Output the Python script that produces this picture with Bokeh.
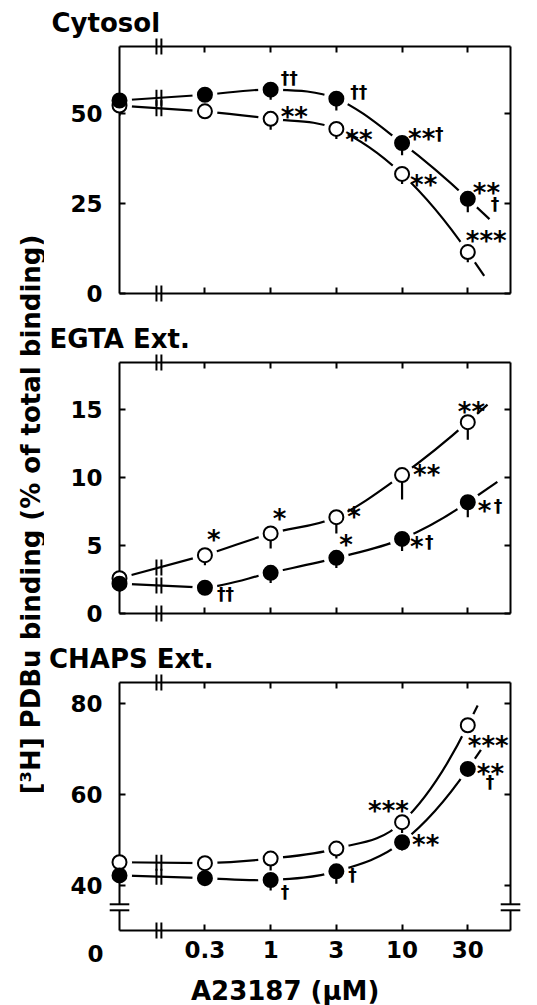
import numpy as np
from bokeh.plotting import figure
from bokeh.layouts import row, column
from bokeh.models import Range1d, LinearAxis, FixedTicker, Label, ColumnDataSource
from bokeh.core.properties import value
from bokeh.embed import file_html
from bokeh.resources import INLINE

# ---------------- data ----------------
conc = [0, 0.3, 1, 3, 10, 30]
conc_labels = ["0", "0.3", "1", "3", "10", "30"]

cyto_open = [52.2, 50.6, 48.5, 45.7, 33.2, 11.5]
cyto_open_err = [2.8, 1.5, 3.0, 2.8, 2.8, 2.8]
cyto_filled = [53.6, 55.2, 56.6, 54.1, 41.8, 26.3]
cyto_filled_err = [1.0, 1.5, 2.8, 3.3, 3.4, 3.7]
cyto_open_sig = ["", "", "**", "**", "**", "***"]
cyto_open_dag = ["", "", "", "", "", ""]
cyto_filled_sig = ["", "", "", "", "**", "**"]
cyto_filled_dag = ["", "", "††", "††", "†", "†"]

egta_open = [2.6, 4.3, 5.9, 7.1, 10.2, 14.1]
egta_open_err = [0.3, 0.75, 1.1, 1.2, 1.8, 1.3]
egta_filled = [2.2, 1.9, 3.0, 4.1, 5.5, 8.2]
egta_filled_err = [0.6, 0.3, 0.75, 0.75, 0.9, 1.1]
egta_open_sig = ["", "*", "*", "*", "**", "**"]
egta_open_dag = ["", "", "", "", "", ""]
egta_filled_sig = ["", "", "", "*", "*", "*"]
egta_filled_dag = ["", "††", "", "", "†", "†"]

chaps_open = [45.1, 44.9, 45.9, 48.1, 53.9, 75.2]
chaps_open_err = [1.0, 1.0, 2.6, 2.2, 2.4, 1.0]
chaps_filled = [42.2, 41.6, 41.2, 43.1, 49.5, 65.6]
chaps_filled_err = [1.0, 0.8, 2.3, 2.7, 1.8, 1.5]
chaps_open_sig = ["", "", "", "", "***", "***"]
chaps_open_dag = ["", "", "", "", "", ""]
chaps_filled_sig = ["", "", "", "", "**", "**"]
chaps_filled_dag = ["", "", "†", "†", "", "†"]

y_title = "[³H] PDBu binding (% of total binding)"
x_title = "A23187 (μM)"

# ---------------- style / layout ----------------
FONT = "DejaVu Sans"
ZERO_POS = -2.3      # position of the zero-concentration point
BREAK_POS = -1.7     # axis break between 0 and 0.3
X_END = 3.65
W0 = 44              # width of the y-title strip
COL_W = 537 - W0


def xpos(c):
    return ZERO_POS if c == 0 else int(round(2 * np.log10(c)))


X = [xpos(c) for c in conc]
TICK_POS = [xpos(c) for c in conc if c > 0]
TICK_LAB = {xpos(c): lab for c, lab in zip(conc, conc_labels) if c > 0}


def curve_parts(xs, ys, ext):
    P = np.column_stack([xs, ys]).astype(float)
    n = len(P)
    slopes = (P[1:, 1] - P[:-1, 1]) / (P[1:, 0] - P[:-1, 0])
    m = np.zeros_like(P)
    for i in range(1, n - 1):
        m[i] = [1.0, 0.5 * (slopes[i - 1] + slopes[i])]
    m[n - 1] = 2 * (P[n - 1] - P[n - 2]) - m[n - 2]
    seg = dict(x0=[], y0=[], x1=[], y1=[], cx0=[], cy0=[], cx1=[], cy1=[])
    for i in range(1, n - 1):
        a, b = P[i], P[i + 1]
        c0 = a + m[i] / 3
        c1 = b - m[i + 1] / 3
        for k, v in zip(["x0", "y0", "x1", "y1", "cx0", "cy0", "cx1", "cy1"],
                        [a[0], a[1], b[0], b[1], c0[0], c0[1], c1[0], c1[1]]):
            seg[k].append(v)
    end = P[n - 1] + ext * m[n - 1]
    return P, seg, end


def style_axis(ax, labels=True):
    ax.axis_line_width = 2
    ax.axis_line_color = "black"
    ax.major_tick_in = 6
    ax.major_tick_out = 0
    ax.major_tick_line_width = 2
    ax.minor_tick_line_color = None
    ax.major_label_text_font = FONT
    ax.major_label_text_font_style = "bold"
    ax.major_label_text_font_size = "23px"
    ax.major_label_text_color = "black"
    if not labels:
        ax.major_label_text_font_size = "1px"


def free_text(p, x, y, text, size, align="left", baseline="alphabetic", xo=0):
    p.text(x=[x], y=[y], text=[text], x_offset=xo, text_font=value(FONT),
           text_font_style="bold", text_font_size=size, text_align=align,
           text_baseline=baseline, text_color="black", level="overlay")


def make_panel(title, yr, yticks, height, borders, open_v, open_e, filled_v, filled_e,
               sigs, exts, title_x, last=False, ybreak=None):
    left, right, top, bottom = borders
    fw = COL_W - left - right
    fh = height - top - bottom
    p = figure(width=COL_W, height=height, x_range=Range1d(ZERO_POS, X_END),
               y_range=Range1d(*yr), output_backend="svg", toolbar_location=None,
               min_border_left=left, min_border_right=right, min_border_top=top,
               min_border_bottom=bottom, outline_line_color=None,
               background_fill_color="white", border_fill_color="white")
    p.xgrid.visible = False
    p.ygrid.visible = False
    dxpp = (X_END - ZERO_POS) / fw
    dypp = (yr[1] - yr[0]) / fh

    yt = FixedTicker(ticks=yticks)
    xt = FixedTicker(ticks=TICK_POS)
    p.yaxis[0].ticker = yt
    style_axis(p.yaxis[0])
    p.yaxis[0].major_label_standoff = 17
    p.xaxis[0].ticker = xt
    style_axis(p.xaxis[0], labels=last)
    if last:
        p.xaxis[0].major_label_overrides = TICK_LAB
        p.xaxis[0].major_label_standoff = 10
    else:
        p.xaxis[0].major_label_overrides = {t: "" for t in TICK_POS}
    ra = LinearAxis(ticker=FixedTicker(ticks=yticks))
    style_axis(ra, labels=False)
    ra.major_label_overrides = {t: "" for t in yticks}
    p.add_layout(ra, "right")
    ta = LinearAxis(ticker=FixedTicker(ticks=TICK_POS))
    style_axis(ta, labels=False)
    ta.major_label_overrides = {t: "" for t in TICK_POS}
    p.add_layout(ta, "above")

    series = [(open_v, open_e, "white", exts[0]), (filled_v, filled_e, "black", exts[1])]
    # curves
    for vals, errs, fc, ext in series:
        P, seg, end = curve_parts(X, vals, ext)
        p.line([P[0, 0], P[1, 0]], [P[0, 1], P[1, 1]], line_color="black", line_width=2.2)
        p.bezier(source=ColumnDataSource(seg), x0="x0", y0="y0", x1="x1", y1="y1",
                 cx0="cx0", cy0="cy0", cx1="cx1", cy1="cy1", line_color="black",
                 line_width=2.2)
        p.line([P[-1, 0], end[0]], [P[-1, 1], end[1]], line_color="black", line_width=2.2)
    # halos to open gaps in curves around markers
    for vals, errs, fc, ext in series:
        p.scatter(X, vals, size=25, fill_color="white", line_color=None)
    # break marks on the curves
    for vals, errs, fc, ext in series:
        yb = vals[0] + (vals[1] - vals[0]) * (BREAK_POS - X[0]) / (X[1] - X[0])
        for s in (-2.5, 2.5):
            p.segment(x0=[BREAK_POS + s * dxpp], y0=[yb - 8 * dypp],
                      x1=[BREAK_POS + s * dxpp], y1=[yb + 8 * dypp],
                      line_color="black", line_width=2)
    # error bars
    for vals, errs, fc, ext in series:
        p.segment(x0=X, y0=vals, x1=X, y1=[v - e for v, e in zip(vals, errs)],
                  line_color="black", line_width=2.2)
    # markers
    for vals, errs, fc, ext in series:
        p.scatter(X, vals, size=14, fill_color=fc, line_color="black", line_width=2,
                  level="overlay")
    # axis break marks
    for yy in (yr[0], yr[1]):
        for s in (-2.5, 2.5):
            p.segment(x0=[BREAK_POS + s * dxpp], y0=[yy - 8 * dypp],
                      x1=[BREAK_POS + s * dxpp], y1=[yy + 8 * dypp],
                      line_color="black", line_width=2, level="overlay")
    if ybreak is not None:
        for xx in (ZERO_POS, X_END):
            p.segment(x0=[xx], y0=[ybreak - 3 * dypp], x1=[xx], y1=[ybreak + 3 * dypp],
                      line_color="white", line_width=5, level="overlay")
            for s in (-3, 3):
                p.segment(x0=[xx - 10 * dxpp], y0=[ybreak + s * dypp],
                          x1=[xx + 10 * dxpp], y1=[ybreak + s * dypp],
                          line_color="black", line_width=2, level="overlay")
    # significance marks
    AST_FIX = 5
    for vals, labels, offs, size, fix in sigs:
        d = dict(x=[], y=[], t=[], xo=[], yo=[])
        for xx, yy, t, o in zip(X, vals, labels, offs):
            if t:
                d["x"].append(xx)
                d["y"].append(yy)
                d["t"].append(t)
                d["xo"].append(o[0])
                d["yo"].append(-o[1] + (AST_FIX if fix else 0))
        p.text(x="x", y="y", text="t", x_offset="xo", y_offset="yo",
               source=ColumnDataSource(d), text_font=value(FONT), text_font_style="bold",
               text_font_size=size, text_align="left", text_baseline="middle",
               text_color="black", level="overlay")
    # panel title (drawn in the border above the frame)
    free_text(p, ZERO_POS + (title_x - left) * dxpp, yr[1] + 24 * dypp, title, "26px")
    if last:
        free_text(p, ZERO_POS, yr[0] - 23 * dypp, conc_labels[0], "23px",
                  align="center", baseline="middle", xo=-24)
        free_text(p, ZERO_POS + (288 - W0 - left) * dxpp, yr[0] - 60 * dypp, x_title,
                  "26px", align="center", baseline="middle")
    return p


N = (0, 0)
p1 = make_panel(
    "Cytosol", (0, 68.6), [0, 25, 50], 318, (69, 27, 46, 25),
    cyto_open, cyto_open_err, cyto_filled, cyto_filled_err,
    [
        (cyto_open, cyto_open_sig, [N, N, (10, 7), (9, -6), (8, -6), (-2, 16)], "26px", True),
        (cyto_filled, cyto_filled_sig, [N, N, N, N, (6, 9), (5, 11)], "26px", True),
        (cyto_filled, cyto_filled_dag, [N, N, (10, 12), (14, 7), (33, 9), (23, -5)], "17px", False),
    ],
    (0.25, 0.33), 0)

p2 = make_panel(
    "EGTA Ext.", (0, 18.5), [0, 5, 10, 15], 322, (72, 25, 44, 27),
    egta_open, egta_open_err, egta_filled, egta_filled_err,
    [
        (egta_open, egta_open_sig, [N, (2, 20), (2, 19), (11, 5), (11, 5), (-10, 15)], "26px", True),
        (egta_filled, egta_filled_sig, [N, N, N, (3, 18), (8, -3), (10, -4)], "26px", True),
        (egta_filled, egta_filled_dag, [N, (12, -6), N, N, (23, -3), (26, -4)], "17px", False),
    ],
    (0.3, 0.45), 1)

p3 = make_panel(
    "CHAPS Ext.", (30.1, 84.6), [40, 60, 80], 365, (75, 19, 42, 75),
    chaps_open, chaps_open_err, chaps_filled, chaps_filled_err,
    [
        (chaps_open, chaps_open_sig, [N, N, N, N, (-34, 16), (0, -16)], "26px", True),
        (chaps_filled, chaps_filled_sig, [N, N, N, N, (10, 2), (9, 0)], "26px", True),
        (chaps_filled, chaps_filled_dag, [N, N, (10, -12), (12, -4), N, (18, -13)], "17px", False),
    ],
    (0.15, 0.2), 3, last=True, ybreak=35.2)

lab = figure(width=W0, height=1005, x_range=Range1d(0, W0), y_range=Range1d(1005, 0),
             output_backend="svg", toolbar_location=None, x_axis_type=None,
             y_axis_type=None, outline_line_color=None, min_border=0,
             background_fill_color="white", border_fill_color="white")
lab.xgrid.visible = False
lab.ygrid.visible = False
lab.add_layout(Label(x=30, y=514, angle=np.pi / 2, text=y_title, text_font=FONT,
                     text_font_style="bold", text_font_size="26px", text_align="center",
                     text_baseline="middle", text_color="black"))

layout = row(lab, column(p1, p2, p3))
open("out.html", "w").write(file_html(layout, INLINE))
